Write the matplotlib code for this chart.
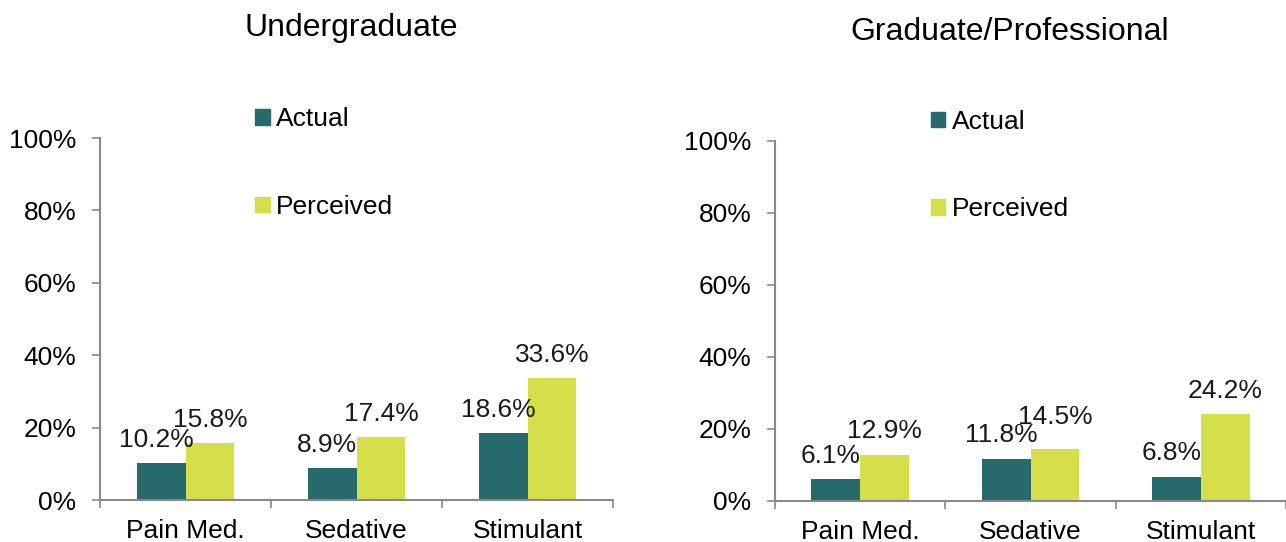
import matplotlib
matplotlib.use("Agg")
import matplotlib.pyplot as plt
from matplotlib.patches import Patch
import numpy as np

plt.rcParams['font.family'] = ['Liberation Sans', 'DejaVu Sans']

categories = ["Pain Med.", "Sedative", "Stimulant"]
series_names = ["Actual", "Perceived"]
ug_actual = [10.2, 8.9, 18.6]
ug_perceived = [15.8, 17.4, 33.6]
gp_actual = [6.1, 11.8, 6.8]
gp_perceived = [12.9, 14.5, 24.2]
titles = ["Undergraduate", "Graduate/Professional"]
yticks = [0, 20, 40, 60, 80, 100]
ytick_labels = ["0%", "20%", "40%", "60%", "80%", "100%"]

c_actual = "#28696C"
c_perc = "#D4DF4A"
spine_c = "#898989"
FS = 19

fig = plt.figure(figsize=(12.86, 5.42), dpi=100)
ax1 = fig.add_axes([100/1286, 42/542, 513/1286, 362/542])
ax2 = fig.add_axes([775/1286, 41/542, 511/1286, 360/542])

bw = 0.286
panels = [
    (ax1, ug_actual, ug_perceived, titles[0], 351/1286, 1-28/542, (0.282, 1.114), {}),
    (ax2, gp_actual, gp_perceived, titles[1], 1010/1286, 1-32/542, (0.284, 1.116), {1: 6}),
]
for ax, act, per, title, tx, ty, leg_xy, extra in panels:
    x = np.arange(len(categories)) + 0.5
    b1 = ax.bar(x - bw/2, act, bw, color=c_actual)
    b2 = ax.bar(x + bw/2, per, bw, color=c_perc)
    for rect, v in zip(b1, act):
        ax.annotate(f"{v:.1f}%", (rect.get_x() + rect.get_width()/2 - 0.03, v),
                    xytext=(0, 8), textcoords="offset points",
                    ha="center", va="bottom", fontsize=FS, color="#1a1a1a")
    for i, (rect, v) in enumerate(zip(b2, per)):
        ax.annotate(f"{v:.1f}%", (rect.get_x() + rect.get_width()/2, v),
                    xytext=(0, 8 + extra.get(i, 0)), textcoords="offset points",
                    ha="center", va="bottom", fontsize=FS, color="#1a1a1a")
    ax.set_xlim(0, 3)
    ax.set_ylim(0, 100)
    ax.set_yticks(yticks)
    ax.set_yticklabels(ytick_labels, fontsize=FS)
    ax.set_xticks(x)
    ax.set_xticklabels(categories, fontsize=FS)
    ax.set_xticks([0, 1, 2, 3], minor=True)
    ax.tick_params(axis='x', which='major', length=0, pad=14)
    ax.tick_params(axis='x', which='minor', length=6, color=spine_c, width=1.2, direction='out')
    ax.tick_params(axis='y', length=6, color=spine_c, width=1.2, direction='out', pad=11)
    for s in ['top', 'right']:
        ax.spines[s].set_visible(False)
    for s in ['left', 'bottom']:
        ax.spines[s].set_color(spine_c)
        ax.spines[s].set_linewidth(1.5)
    fig.text(tx, ty, title, ha="center", va="center", fontsize=23)
    handles = [Patch(color=c_actual), Patch(color=c_perc)]
    ax.legend(handles, series_names, loc="upper left", bbox_to_anchor=leg_xy,
              frameon=False, fontsize=FS, handlelength=0.55, handleheight=0.55,
              handletextpad=0.25, labelspacing=2.41, borderaxespad=0)

fig.savefig("out.png", dpi=100)
